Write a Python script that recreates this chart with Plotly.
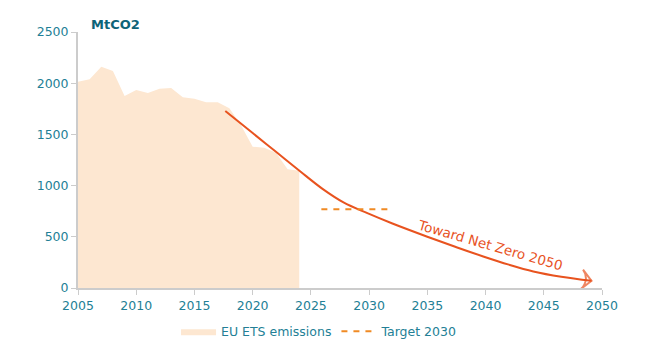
import plotly.graph_objects as go

years = list(range(2005, 2025))
emissions = [2015, 2038, 2161, 2119, 1875, 1934, 1904, 1947, 1953, 1862,
             1849, 1813, 1813, 1755, 1590, 1380, 1370, 1321, 1159, 1146]

traj_years = [2017.65, 2020, 2022, 2024.07, 2026, 2027.8, 2029.8, 2032, 2035,
              2037.5, 2039.8, 2042, 2044.1, 2046.5, 2049.1]
traj_vals = [1729, 1513, 1330, 1140, 968, 836, 733, 630, 501,
             398, 308, 228, 162, 110, 70]

target_years = [2025.9, 2031.6]
target_vals = [770, 770]

TEAL = "#237f96"
FONT = "DejaVu Sans"

fig = go.Figure()
fig.add_trace(go.Scatter(
    x=years, y=emissions, fill="tozeroy", mode="lines",
    line=dict(width=0, color="#fde7d1"), fillcolor="#fde7d1",
    name="EU ETS emissions"))
fig.add_trace(go.Scatter(
    x=traj_years, y=traj_vals, mode="lines",
    line=dict(color="#e8531f", width=2, shape="spline", smoothing=1.0),
    showlegend=False, hoverinfo="skip"))
fig.add_trace(go.Scatter(
    x=traj_years[-2:], y=traj_vals[-2:], mode="markers",
    marker=dict(symbol="arrow-wide-open", size=[0, 14], angleref="previous",
                color="#e8531f", line=dict(color="#e8531f", width=2)),
    showlegend=False, hoverinfo="skip"))
fig.add_trace(go.Scatter(
    x=target_years, y=target_vals, mode="lines",
    line=dict(color="#f08a24", width=2, dash="6px,6px"),
    name="Target 2030"))

fig.add_annotation(x=2040.4, y=420, text="Toward Net Zero 2050", showarrow=False,
                   textangle=16, font=dict(family=FONT, size=13.5, color="#e8531f"))
fig.add_annotation(xref="paper", yref="paper", x=(89 - 78) / 524, y=(288 - 24) / 256,
                   xanchor="left", yanchor="middle", text="<b>MtCO2</b>", showarrow=False,
                   font=dict(family=FONT, size=13, color="#0e6478"))

axis_common = dict(showgrid=False, zeroline=False, showline=True, linecolor="#cccccc",
                   linewidth=2, ticks="outside", tickcolor="#cccccc", ticklen=5,
                   tickwidth=1, tickfont=dict(family=FONT, size=12.5, color=TEAL))
fig.update_xaxes(range=[2005, 2050], tickvals=list(range(2005, 2051, 5)), **axis_common)
fig.update_yaxes(range=[0, 2500], tickvals=list(range(0, 2501, 500)), **axis_common)

fig.update_layout(
    width=650, height=351, margin=dict(l=78, r=48, t=32, b=63, autoexpand=False),
    paper_bgcolor="white", plot_bgcolor="white",
    font=dict(family=FONT, size=12.5, color=TEAL),
    legend=dict(orientation="h", x=0.46, xanchor="center", y=-0.17, yanchor="middle",
                font=dict(family=FONT, size=12.5, color=TEAL), itemwidth=35),
)
fig.write_html("out.html")
